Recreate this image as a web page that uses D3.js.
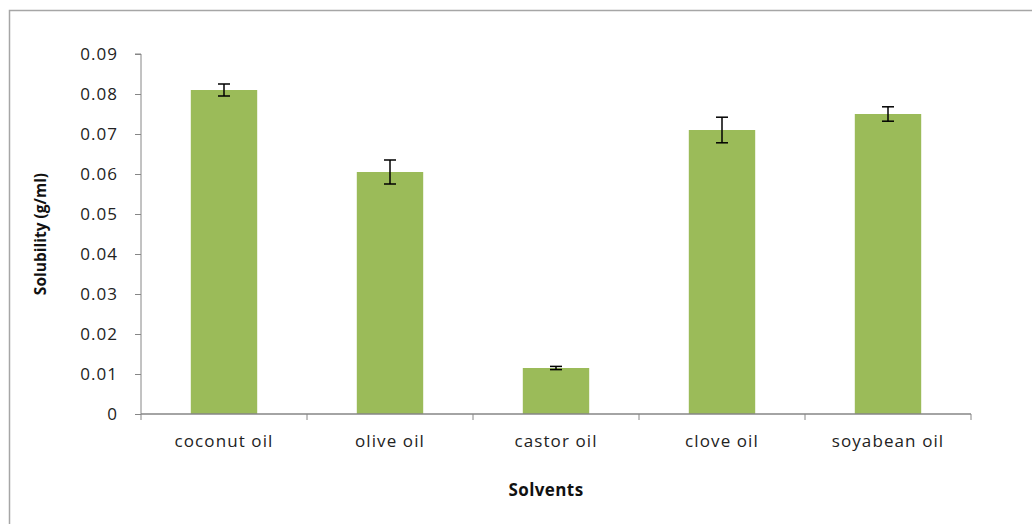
<!DOCTYPE html>
<html><head><meta charset="utf-8">
<script src="https://cdn.jsdelivr.net/npm/d3@7"></script>
<style>body{margin:0;background:#fff;} svg{display:block;}</style>
</head><body>
<svg id="c" width="1032" height="524"></svg>
<script>
const categories = ["coconut oil","olive oil","castor oil","clove oil","soyabean oil"];
const values = [0.081, 0.0605, 0.0115, 0.071, 0.075];
const errors = [0.0015, 0.003, 0.0004, 0.0032, 0.0018];
const yTicks = [0,0.01,0.02,0.03,0.04,0.05,0.06,0.07,0.08,0.09];
const yTickLabels = ["0","0.01","0.02","0.03","0.04","0.05","0.06","0.07","0.08","0.09"];

(function(){
const svg = d3.select("#c");
const font = "'Open Sans', 'DejaVu Sans', sans-serif";
const pL = 141, pR = 971, pT = 54, pB = 414;

svg.append("rect").attr("x",9.5).attr("y",10.5).attr("width",1040).attr("height",540)
  .attr("fill","none").attr("stroke","#a6a6a6").attr("stroke-width",1.5);

const x = d3.scaleBand().domain(categories).range([pL,pR]).paddingInner(0.6).paddingOuter(0.3);
const xStep = d3.scaleBand().domain(categories).range([pL,pR]);
const y = d3.scaleLinear().domain([0,0.09]).range([pB,pT]);

// y axis
const ya = svg.append("g").attr("transform",`translate(${pL},0)`)
  .call(d3.axisLeft(y).tickValues(yTicks).tickFormat((d,i)=>yTickLabels[i]).tickSize(6).tickPadding(17));
ya.select(".domain").attr("stroke","#868686").attr("d",`M-6,${pT}H0V${pB}`);
ya.selectAll(".tick line").attr("stroke","#868686");
ya.selectAll(".tick text").attr("font-family",font).attr("font-size",17).attr("letter-spacing",1).attr("fill","#222");

// bars
svg.selectAll("rect.bar").data(values).enter().append("rect").attr("class","bar")
  .attr("x",(d,i)=>x(categories[i])).attr("width",x.bandwidth())
  .attr("y",d=>y(d)).attr("height",d=>y(0)-y(d)).attr("fill","#9bbb59");

// error bars
const eb = svg.append("g").attr("stroke","#000").attr("stroke-width",1.5);
values.forEach((v,i)=>{
  const cx = x(categories[i]) + x.bandwidth()/2;
  eb.append("line").attr("x1",cx).attr("x2",cx).attr("y1",y(v+errors[i])).attr("y2",y(v-errors[i]));
  eb.append("line").attr("x1",cx-6).attr("x2",cx+6).attr("y1",y(v+errors[i])).attr("y2",y(v+errors[i]));
  eb.append("line").attr("x1",cx-6).attr("x2",cx+6).attr("y1",y(v-errors[i])).attr("y2",y(v-errors[i]));
});

// x axis
const xa = svg.append("g").attr("transform",`translate(0,${pB})`);
xa.append("line").attr("x1",pL).attr("x2",pR).attr("y1",0).attr("y2",0).attr("stroke","#868686").attr("stroke-width",1.5);
const bounds = categories.map(c=>xStep(c)).concat([pR]);
xa.selectAll("line.t").data(bounds).enter().append("line").attr("class","t")
  .attr("x1",d=>d).attr("x2",d=>d).attr("y1",0).attr("y2",6).attr("stroke","#868686");
xa.selectAll("text").data(categories).enter().append("text")
  .attr("x",d=>xStep(d)+xStep.bandwidth()/2).attr("y",33)
  .attr("text-anchor","middle").attr("font-family",font).attr("font-size",17).attr("letter-spacing",1.1).attr("fill","#222").text(d=>d);

// titles
svg.append("text").attr("x",546).attr("y",496).attr("text-anchor","middle")
  .attr("font-family",font).attr("font-size",17).attr("font-weight","bold").attr("letter-spacing",0.4).attr("fill","#111").text("Solvents");
svg.append("text").attr("transform",`translate(46,${(pT+pB)/2}) rotate(-90)`).attr("text-anchor","middle")
  .attr("font-family",font).attr("font-size",15.5).attr("font-weight","bold").attr("fill","#111").text("Solubility (g/ml)");
})();
</script>
</body></html>
